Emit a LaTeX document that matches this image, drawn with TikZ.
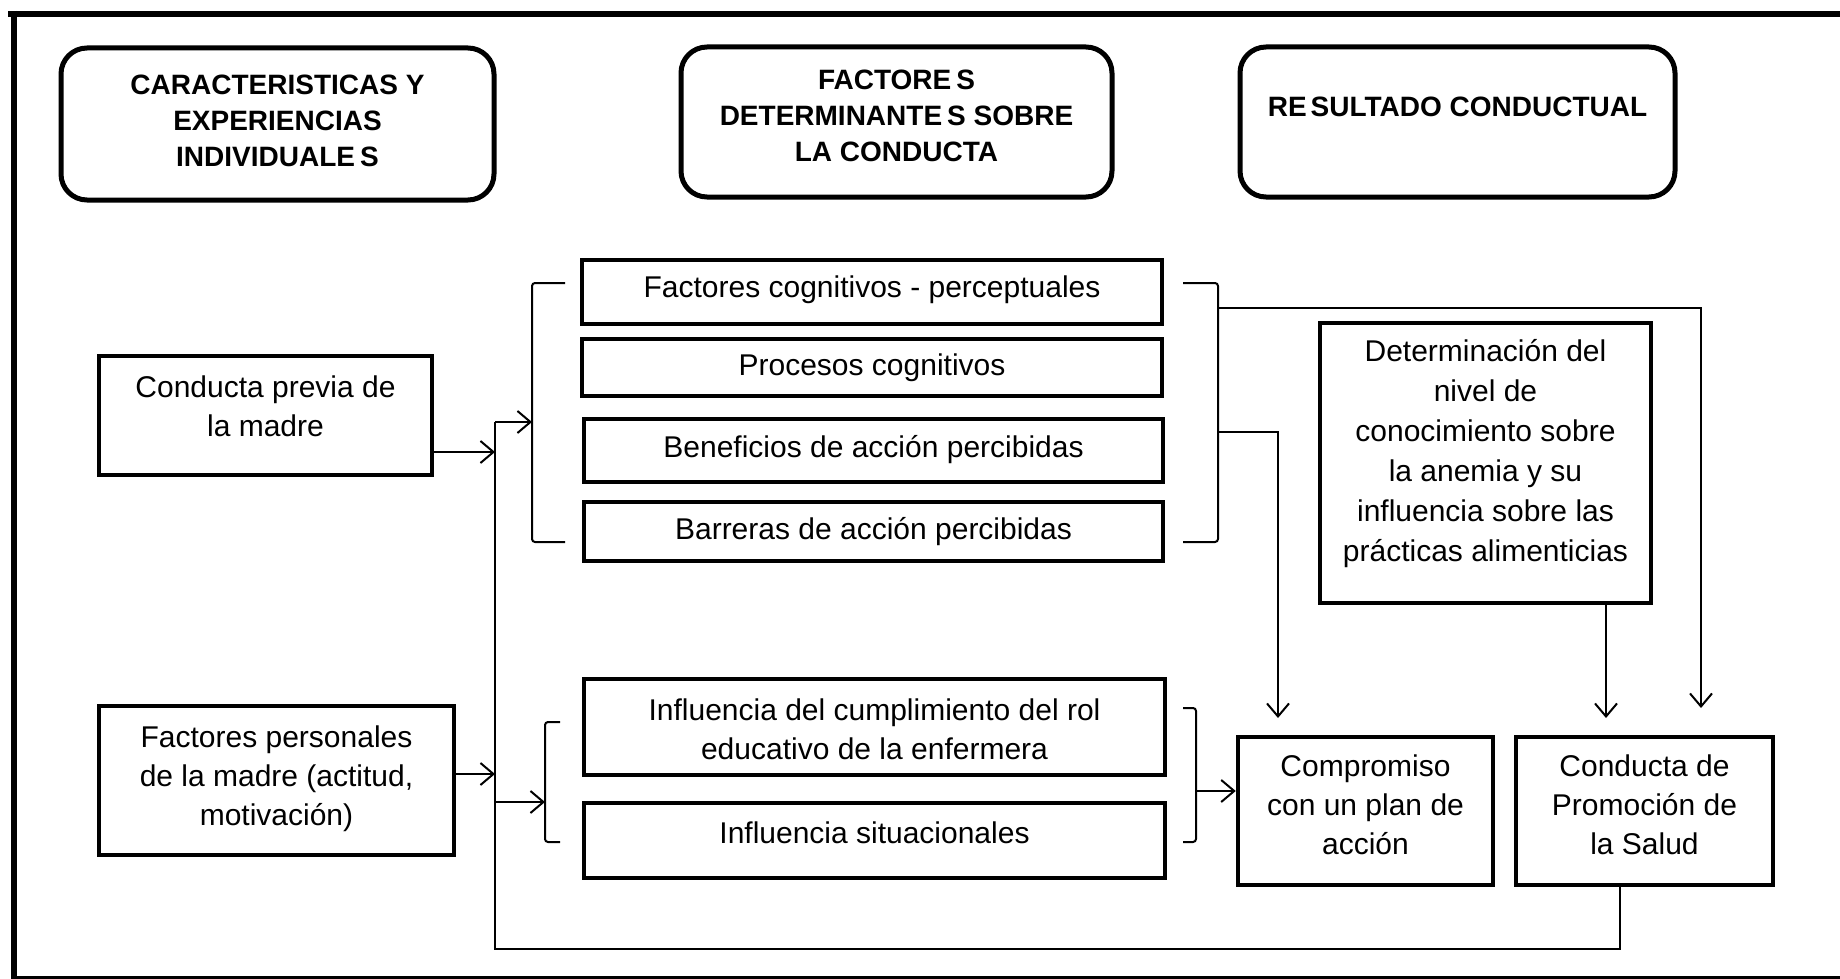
\documentclass[tikz,border=0pt]{standalone}
\usepackage{fontspec}
\setmainfont{Liberation Sans}
\usetikzlibrary{arrows.meta}
\begin{document}
\begin{tikzpicture}[x=1pt,y=-1pt,
  hdr/.style={draw,line width=5pt,rounded corners=26pt,inner sep=0pt},
  bx/.style={draw,line width=4.5pt,inner sep=0pt},
  txt/.style={align=center,inner sep=0pt,font=\fontsize{30}{39}\selectfont},
  htxt/.style={align=center,inner sep=0pt,font=\fontsize{28}{36}\selectfont\bfseries},
  conn/.style={line width=2pt},
  arr/.style={conn,-{Straight Barb[length=13pt,width=22pt]}},
  brk/.style={conn,rounded corners=3pt}]
\useasboundingbox (0,0) rectangle (1840,979);
% frame
\draw[line width=6pt] (8,14) -- (1840,14);
\draw[line width=6pt] (14,11) -- (14,979);
\draw[line width=3pt] (14,977.5) -- (1840,977.5);
% headers
\node[hdr,minimum width=433pt,minimum height=152pt] (h1) at (277.5,124) {};
\node[htxt] (h1t) at (277.5,121) {CARACTERISTICAS Y\\EXPERIENCIAS\\INDIVIDUALE\kern5pt S};
\node[hdr,minimum width=431pt,minimum height=150pt] (h2) at (896.5,122) {};
\node[htxt] (h2t) at (896.5,116) {FACTORE\kern5pt S\\DETERMINANTE\kern5pt S SOBRE\\LA CONDUCTA};
\node[hdr,minimum width=435pt,minimum height=150pt] (h3) at (1457.5,122) {};
\node[htxt] (h3t) at (1457.5,107) {RE\kern4pt SULTADO CONDUCTUAL};
% left boxes
\node[bx,minimum width=333pt,minimum height=119pt] (cpB) at (265.5,415.5) {};
\node[txt] (cp) at (265.5,406) {Conducta previa de\\la madre};
\node[bx,minimum width=355pt,minimum height=149pt] (fpB) at (276.5,780.5) {};
\node[txt] (fp) at (276.5,779) {Factores personales\\de la madre (actitud,\\motivación)};
% middle boxes
\node[bx,minimum width=580pt,minimum height=64pt] (fcB) at (872,292) {};
\node[txt] (fc) at (872,290) {Factores cognitivos - perceptuales};
\node[bx,minimum width=580pt,minimum height=57pt] (pcB) at (872,367.5) {};
\node[txt] (pc) at (872,368) {Procesos cognitivos};
\node[bx,minimum width=579pt,minimum height=63pt] (bnB) at (873.5,450.5) {};
\node[txt] (bn) at (873.5,450) {Beneficios de acción percibidas};
\node[bx,minimum width=579pt,minimum height=59pt] (baB) at (873.5,531.5) {};
\node[txt] (ba) at (873.5,532) {Barreras de acción percibidas};
\node[bx,minimum width=581pt,minimum height=96pt] (icB) at (874.5,727) {};
\node[txt] (ic) at (874.5,729) {Influencia del cumplimiento del rol\\educativo de la enfermera};
\node[bx,minimum width=581pt,minimum height=75pt] (isB) at (874.5,840.5) {};
\node[txt] (is) at (874.5,833) {Influencia situacionales};
% right boxes
\node[bx,minimum width=331pt,minimum height=280pt] (dtB) at (1485.5,463) {};
\node[txt,font=\fontsize{30}{40}\selectfont] (dt) at (1485.5,454) {Determinación del\\nivel de\\conocimiento sobre\\la anemia y su\\influencia sobre las\\prácticas alimenticias};
\node[bx,minimum width=255pt,minimum height=148pt] (cmB) at (1365.5,811) {};
\node[txt] (cm) at (1365.5,805) {Compromiso\\con un plan de\\acción};
\node[bx,minimum width=257pt,minimum height=148pt] (cdB) at (1644.5,811) {};
\node[txt] (cd) at (1644.5,805) {Conducta de\\Promoción de\\la Salud};
% coordinates
\coordinate (v1) at (495,452);
\coordinate (v2) at (495,774);
\coordinate (vt) at (495,422);
\coordinate (vb) at (495,949);
\coordinate (rb) at (1620,949);
\coordinate (b1) at (532,422);
\coordinate (b2) at (545,802);
\coordinate (r1) at (1218,308);
\coordinate (r2) at (1218,432);
\coordinate (r3) at (1196,791);
\coordinate (t1) at (1278,718);
\coordinate (t2) at (1606,718);
\coordinate (t3) at (1701,708);
% brackets
\draw[brk] (565,283) -- (532,283) -- (532,542) -- (565,542);
\draw[brk] (1183,283) -- (1218,283) -- (1218,542) -- (1183,542);
\draw[brk] (560,722) -- (545,722) -- (545,842) -- (560,842);
\draw[brk] (1183,708) -- (1196,708) -- (1196,842) -- (1183,842);
% connectors
\draw[arr] (cpB.east |- v1) -- (v1);
\draw[arr] (fpB.east |- v2) -- (v2);
\draw[conn] (cdB.south -| rb) -- (rb) -- (vb) -- (vt);
\draw[arr] (vt) -- (b1);
\draw[arr] (vb |- b2) -- (b2);
\draw[arr] (r3) -- (cmB.west |- r3);
\draw[arr] (r2) -- (t1 |- r2) -- (t1);
\draw[arr] (r1) -- (t3 |- r1) -- (t3);
\draw[arr] (dtB.south -| t2) -- (t2);
\end{tikzpicture}
\end{document}
